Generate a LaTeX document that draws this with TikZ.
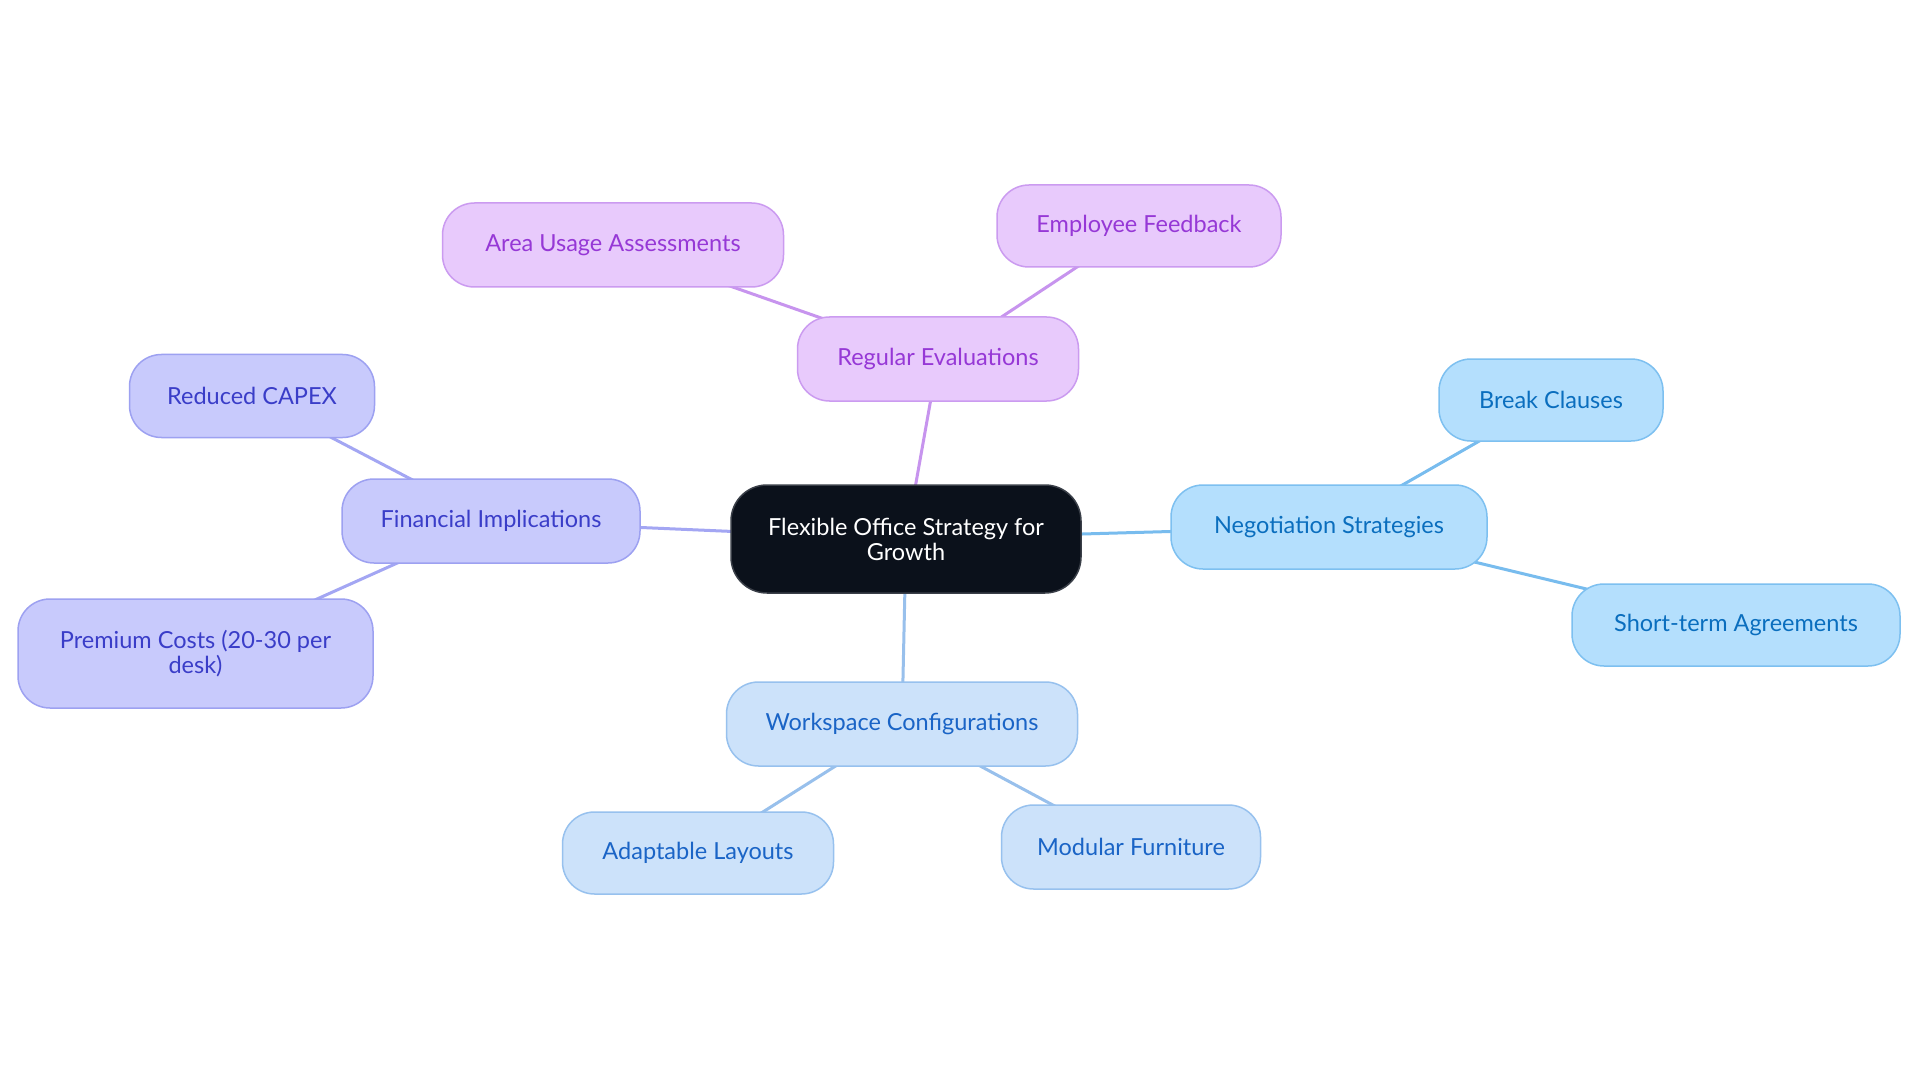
\documentclass[tikz,border=0pt]{standalone}
\usepackage{fontspec}
\setmainfont{Lato}
\usetikzlibrary{backgrounds}
\definecolor{cfill}{HTML}{0B111B}
\definecolor{cdraw}{HTML}{3A3F48}
\definecolor{ffill}{HTML}{C8CAFC}
\definecolor{fdraw}{HTML}{9DA1F1}
\definecolor{ftext}{HTML}{3A3DC8}
\definecolor{fedge}{HTML}{A3A6F3}
\definecolor{pfill}{HTML}{E8CAFC}
\definecolor{pdraw}{HTML}{CB9BF0}
\definecolor{ptext}{HTML}{9638D6}
\definecolor{pedge}{HTML}{C794EE}
\definecolor{nfill}{HTML}{B4DFFD}
\definecolor{ndraw}{HTML}{7DC0F0}
\definecolor{ntext}{HTML}{0A6EBE}
\definecolor{nedge}{HTML}{78BCEE}
\definecolor{wfill}{HTML}{CCE2FA}
\definecolor{wdraw}{HTML}{97C1EE}
\definecolor{wtext}{HTML}{1A64C6}
\definecolor{wedge}{HTML}{98C0EC}
\tikzset{
  box/.style={rectangle, rounded corners=32pt, inner sep=0pt, line width=1.5pt, align=center, font=\fontsize{23.5}{25}\selectfont},
  rootbox/.style={box, fill=cfill, draw=cdraw, text=white, rounded corners=36pt},
  finbox/.style={box, fill=ffill, draw=fdraw, text=ftext},
  purbox/.style={box, fill=pfill, draw=pdraw, text=ptext},
  negbox/.style={box, fill=nfill, draw=ndraw, text=ntext},
  wsbox/.style={box, fill=wfill, draw=wdraw, text=wtext},
  link/.style={line width=3pt},
}
\begin{document}
\begin{tikzpicture}[x=1pt,y=-1pt]
\useasboundingbox (0,0) rectangle (1920,1083);
\node[rootbox, minimum width=350pt, minimum height=108pt] (root) at (906,539) {Flexible Office Strategy for\\Growth};
\node[finbox, minimum width=298pt, minimum height=84pt] (fin) at (491,521) {Financial Implications};
\node[finbox, minimum width=245pt, minimum height=83pt] (capex) at (252,396) {Reduced CAPEX};
\node[finbox, minimum width=355pt, minimum height=109pt] (prem) at (195.5,653.5) {Premium Costs (20-30 per\\desk)};
\node[purbox, minimum width=281pt, minimum height=84pt] (reg) at (938,359) {Regular Evaluations};
\node[purbox, minimum width=341pt, minimum height=84pt] (area) at (613,245) {Area Usage Assessments};
\node[purbox, minimum width=284pt, minimum height=82pt] (emp) at (1139,226) {Employee Feedback};
\node[negbox, minimum width=316pt, minimum height=84pt] (neg) at (1329,527) {Negotiation Strategies};
\node[negbox, minimum width=224pt, minimum height=82pt] (brk) at (1551,400) {Break Clauses};
\node[negbox, minimum width=328pt, minimum height=82pt] (short) at (1736,625) {Short-term Agreements};
\node[wsbox, minimum width=351pt, minimum height=84pt] (ws) at (902,724) {Workspace Configurations};
\node[wsbox, minimum width=271pt, minimum height=82pt] (adapt) at (698,853) {Adaptable Layouts};
\node[wsbox, minimum width=259pt, minimum height=84pt] (mod) at (1131,847) {Modular Furniture};
\begin{scope}[on background layer]
\fill[white] (0,0) rectangle (1920,1083);
\draw[link, fedge] (root.center) -- (fin.center);
\draw[link, fedge] (fin.center) -- (capex.center);
\draw[link, fedge] (fin.center) -- (prem.center);
\draw[link, pedge] (root.center) -- (reg.center);
\draw[link, pedge] (reg.center) -- (area.center);
\draw[link, pedge] (reg.center) -- (emp.center);
\draw[link, nedge] (root.center) -- (neg.center);
\draw[link, nedge] (neg.center) -- (brk.center);
\draw[link, nedge] (neg.center) -- (short.center);
\draw[link, wedge] (root.center) -- (ws.center);
\draw[link, wedge] (ws.center) -- (adapt.center);
\draw[link, wedge] (ws.center) -- (mod.center);
\end{scope}
\end{tikzpicture}
\end{document}
